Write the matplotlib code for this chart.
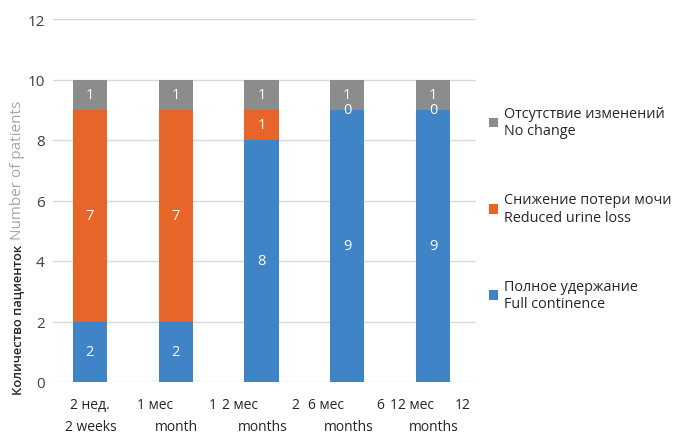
import matplotlib.pyplot as plt
import numpy as np

plt.rcParams['font.family'] = ['Open Sans', 'DejaVu Sans']

# данные
periods_ru = ["2 нед.", "1 мес", "2 мес", "6 мес", "12 мес"]
periods_num = ["", "1", "2", "6", "12"]
periods_en = ["2 weeks", "month", "months", "months", "months"]

full_continence = [2, 2, 8, 9, 9]
reduced_loss = [7, 7, 1, 0, 0]
no_change = [1, 1, 1, 1, 1]

series_names = ["Полное удержание\nFull continence",
                "Снижение потери мочи\nReduced urine loss",
                "Отсутствие изменений\nNo change"]
colors = ["#3E84C6", "#E8652A", "#8C8C8C"]

fig = plt.figure(figsize=(6.83, 4.35), dpi=100)
ax = fig.add_axes([53 / 683, 1 - 383 / 435, (476 - 53) / 683, 363 / 435])

x = np.arange(len(periods_ru))
bottom = np.zeros(len(x))
bars = []
for vals, name, c in zip([full_continence, reduced_loss, no_change], series_names, colors):
    b = ax.bar(x, vals, 0.4, bottom=bottom, color=c, label=name, zorder=3)
    bars.append(b)
    for xi, v, bt in zip(x, vals, bottom):
        ax.text(xi, bt + v / 2, str(v), color="white", ha="center", va="center",
                fontsize=10.5, zorder=4)
    bottom = bottom + np.array(vals)

ax.set_ylim(0, 12)
ax.set_xlim(-0.43, 4.5)
ax.set_yticks(range(0, 13, 2))
ax.yaxis.grid(True, color="#D9D9D9", linewidth=1, zorder=0)
ax.tick_params(axis="y", length=0, pad=6, labelsize=11, labelcolor="#404040")
ax.set_xticks([])
for s in ax.spines.values():
    s.set_visible(False)

# подписи оси X (две строки, как в оригинале: число от английской подписи съехало вверх)
fs = 10
num_dx = [0, 37, 34, 33, 30]
for xi, ru, num, en, dx in zip(x, periods_ru, periods_num, periods_en, num_dx):
    ax.annotate(ru, (xi, 0), xycoords=("data", "axes fraction"),
                xytext=(-21 if num else 0, -23), textcoords="offset pixels",
                ha="center", va="center", fontsize=fs, color="#262626")
    if num:
        ax.annotate(num, (xi, 0), xycoords=("data", "axes fraction"),
                    xytext=(dx, -23), textcoords="offset pixels",
                    ha="center", va="center", fontsize=fs, color="#262626")
    ax.annotate(en, (xi, 0), xycoords=("data", "axes fraction"),
                xytext=(1, -45), textcoords="offset pixels", ha="center", va="center",
                fontsize=fs, color="#262626")

# подписи оси Y
fig.text(18 / 683, 1 - 395 / 435, "Количество пациенток", rotation=90, ha="center",
         va="bottom", fontsize=9.3, fontweight="semibold", color="#262626")
fig.text(18 / 683, 1 - 240 / 435, "Number of patients", rotation=90, ha="center",
         va="bottom", fontsize=11, color="#A6A6A6")

handles = bars[::-1]
labels = series_names[::-1]
leg = fig.legend(handles, labels, loc="upper left", bbox_to_anchor=(476 / 683, 1 - 94 / 435),
                 frameon=False, fontsize=10.4, labelspacing=3.75, handlelength=0.65,
                 handleheight=0.65, handletextpad=0.4, labelcolor="#262626")

fig.savefig("out.png", dpi=100)
